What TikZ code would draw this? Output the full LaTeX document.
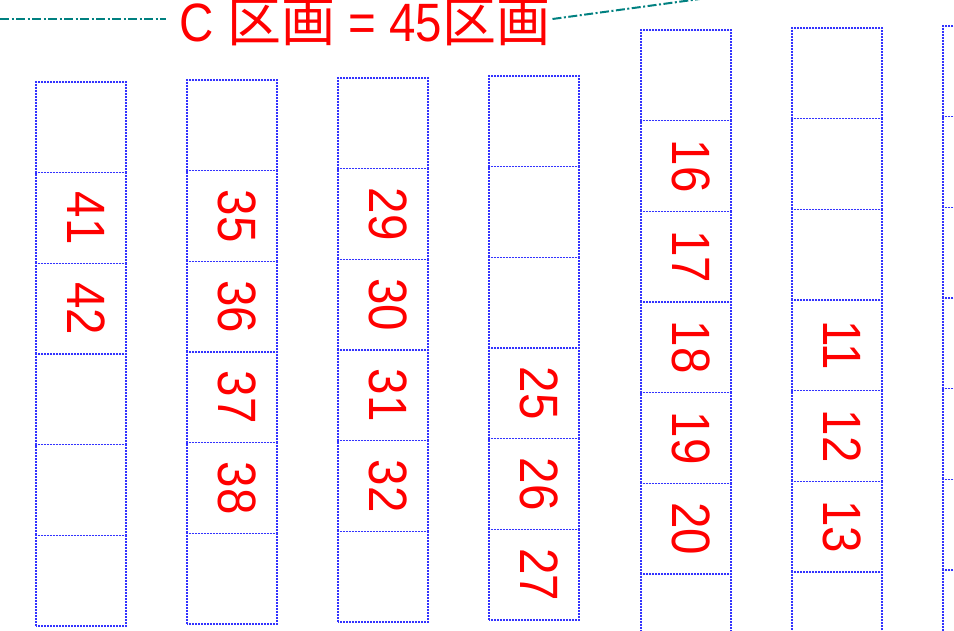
\documentclass[tikz,border=0pt]{standalone}
\usepackage{fontspec}
\newfontfamily\numfont[FakeStretch=0.88]{Liberation Sans}
\newfontfamily\cjkfont{Noto Sans CJK JP}
\usetikzlibrary{positioning}
\definecolor{cellblue}{RGB}{51,51,255}
\definecolor{leaderteal}{RGB}{0,128,128}

\begin{document}
\begin{tikzpicture}[x=1pt, y=-1pt, cell/.style={rectangle, draw=cellblue, line width=1.2pt, dash pattern=on 2pt off 1pt, dash phase=0.667pt, minimum width=90pt, minimum height=90.67pt, inner sep=0pt, outer sep=0pt}, num/.style={rotate=-90, text=red, font=\numfont\fontsize{54}{60}\selectfont, text depth=10pt, inner sep=0pt}, head/.style={text=red, font=\numfont\fontsize{54}{60}\selectfont, inner sep=0pt}, leader/.style={draw=leaderteal, line width=2pt, dash pattern=on 9pt off 2.5pt on 2pt off 2.5pt}]
    \useasboundingbox (0,0) rectangle (954,630);
    \clip (0,0) rectangle (954,630);

    %Title
    \node[head](title) at (365,23){C {\cjkfont 区画} = 45{\cjkfont 区画}};
    \coordinate (lend) at (0,19);
    \coordinate (rend) at (832,-19);

    %Column 1
    \node[cell, anchor=north west](a1) at (36,82){};
    \node[cell](a2)[below=0pt of a1]{};
    \node[cell](a3)[below=0pt of a2]{};
    \node[cell](a4)[below=0pt of a3]{};
    \node[cell](a5)[below=0pt of a4]{};
    \node[cell](a6)[below=0pt of a5]{};

    %Column 2
    \node[cell, anchor=north west](b1) at (187,80){};
    \node[cell](b2)[below=0pt of b1]{};
    \node[cell](b3)[below=0pt of b2]{};
    \node[cell](b4)[below=0pt of b3]{};
    \node[cell](b5)[below=0pt of b4]{};
    \node[cell](b6)[below=0pt of b5]{};

    %Column 3
    \node[cell, anchor=north west](c1) at (338,78){};
    \node[cell](c2)[below=0pt of c1]{};
    \node[cell](c3)[below=0pt of c2]{};
    \node[cell](c4)[below=0pt of c3]{};
    \node[cell](c5)[below=0pt of c4]{};
    \node[cell](c6)[below=0pt of c5]{};

    %Column 4
    \node[cell, anchor=north west](d1) at (489,76){};
    \node[cell](d2)[below=0pt of d1]{};
    \node[cell](d3)[below=0pt of d2]{};
    \node[cell](d4)[below=0pt of d3]{};
    \node[cell](d5)[below=0pt of d4]{};
    \node[cell](d6)[below=0pt of d5]{};

    %Column 5
    \node[cell, anchor=north west](e1) at (641,30){};
    \node[cell](e2)[below=0pt of e1]{};
    \node[cell](e3)[below=0pt of e2]{};
    \node[cell](e4)[below=0pt of e3]{};
    \node[cell](e5)[below=0pt of e4]{};
    \node[cell](e6)[below=0pt of e5]{};
    \node[cell](e7)[below=0pt of e6]{};

    %Column 6
    \node[cell, anchor=north west](f1) at (792,28){};
    \node[cell](f2)[below=0pt of f1]{};
    \node[cell](f3)[below=0pt of f2]{};
    \node[cell](f4)[below=0pt of f3]{};
    \node[cell](f5)[below=0pt of f4]{};
    \node[cell](f6)[below=0pt of f5]{};
    \node[cell](f7)[below=0pt of f6]{};

    %Column 7
    \node[cell, anchor=north west](g1) at (943,26){};
    \node[cell](g2)[below=0pt of g1]{};
    \node[cell](g3)[below=0pt of g2]{};
    \node[cell](g4)[below=0pt of g3]{};
    \node[cell](g5)[below=0pt of g4]{};
    \node[cell](g6)[below=0pt of g5]{};
    \node[cell](g7)[below=0pt of g6]{};

    %Numbers
    \node[num](n41) at (a2){41};
    \node[num](n42) at (a3){42};
    \node[num](n35) at (b2){35};
    \node[num](n36) at (b3){36};
    \node[num](n37) at (b4){37};
    \node[num](n38) at (b5){38};
    \node[num](n29) at (c2){29};
    \node[num](n30) at (c3){30};
    \node[num](n31) at (c4){31};
    \node[num](n32) at (c5){32};
    \node[num](n25) at (d4){25};
    \node[num](n26) at (d5){26};
    \node[num](n27) at (d6){27};
    \node[num](n16) at (e2){16};
    \node[num](n17) at (e3){17};
    \node[num](n18) at (e4){18};
    \node[num](n19) at (e5){19};
    \node[num](n20) at (e6){20};
    \node[num](n11) at (f4){11};
    \node[num](n12) at (f5){12};
    \node[num](n13) at (f6){13};

    %Lines
    \draw[leader] (lend) -- ([xshift=-14pt]title.west |- lend);
    \draw[leader] ([xshift=2pt]title.east |- lend) -- (rend);

\end{tikzpicture}
\end{document}
